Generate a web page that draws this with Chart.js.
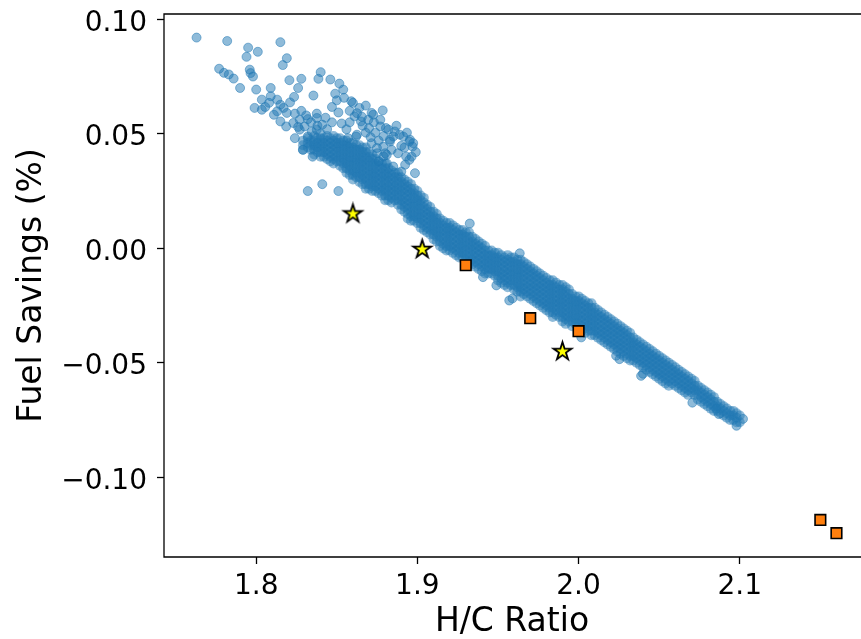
<!DOCTYPE html>
<html>
<head>
<meta charset="utf-8">
<script src="https://cdn.jsdelivr.net/npm/chart.js@4.4.1/dist/chart.umd.min.js"></script>
<style>
  html, body { margin: 0; padding: 0; background: #fff; overflow: hidden; }
  canvas { display: block; }
</style>
</head>
<body>
<canvas id="fuel-chart" width="861" height="639"></canvas>
<script>
// axis ticks
const xTicks = [1.8, 1.9, 2.0, 2.1];
const xTickLabels = ["1.8", "1.9", "2.0", "2.1"];
const yTicks = [-0.10, -0.05, 0.00, 0.05, 0.10];
const yTickLabels = ["\u22120.10", "\u22120.05", "0.00", "0.05", "0.10"];

// orange squares
const squareX = [1.930, 1.970, 2.000, 2.150, 2.160];
const squareY = [-0.0074, -0.0305, -0.0362, -0.1186, -0.1244];

// yellow stars
const starX = [1.860, 1.903, 1.990];
const starY = [0.0150, -0.0005, -0.0451];

// blue cloud, sparse points read one by one
const loosePoints = [
  [1.763,0.092],[1.782,0.0905],[1.795,0.0876],[1.801,0.0858],[1.794,0.0836],[1.815,0.090],
  [1.819,0.083],[1.8165,0.080],[1.796,0.078],[1.7965,0.0765],[1.798,0.075],[1.777,0.0784],
  [1.780,0.0766],[1.783,0.0759],[1.786,0.0741],[1.790,0.070],[1.800,0.0693],[1.799,0.0613],
  [1.8035,0.0605],[1.8035,0.0649],[1.809,0.070],[1.809,0.0664],[1.808,0.0635],[1.813,0.0649],
  [1.815,0.0627],[1.813,0.0598],[1.811,0.0583],[1.817,0.0613],[1.819,0.0591],[1.821,0.0637],
  [1.8235,0.0661],[1.826,0.070],[1.828,0.074],[1.8206,0.0734],[1.824,0.0588],[1.815,0.0554],
  [1.8186,0.0532],[1.823,0.0547],[1.827,0.0561],[1.832,0.0564],[1.8376,0.0588],[1.840,0.0769],
  [1.8386,0.074],[1.8355,0.0667],[1.8376,0.0569],[1.846,0.0737],[1.8516,0.0719],[1.854,0.0693],
  [1.849,0.0675],[1.850,0.0646],[1.8545,0.0657],[1.847,0.0617],[1.851,0.0593],[1.859,0.0642],
  [1.864,0.0613],[1.868,0.0623],[1.861,0.0576],[1.865,0.0554],[1.8695,0.0561],[1.873,0.055],
  [1.8785,0.0602],[1.877,0.0561],[1.866,0.0535],[1.877,0.0532],[1.887,0.0535],[1.889,0.0496],
  [1.885,0.0488],[1.883,0.0466],[1.890,0.0447],[1.895,0.0466],[1.897,0.0444],[1.8985,0.0328],
  [1.880,0.0415],[1.879,0.0401],[1.885,0.0357],[1.890,0.0335],[1.893,0.0401],[1.895,0.0386],
  [1.8716,0.0459],[1.875,0.0415],[1.876,0.0379],[1.881,0.0371],[1.862,0.0488],[1.857,0.0481],
  [1.830,0.0532],[1.8345,0.051],[1.827,0.0518],[1.824,0.0481],[1.832,0.0488],[1.8376,0.0518],
  [1.8056,0.0617],[1.8716,0.0591],[1.882,0.0518],[1.860,0.0635],[1.8726,0.0583],[1.8954,0.0474],
  [1.8974,0.0459],[1.8912,0.0488],[1.883,0.0474],[1.8788,0.0444],[1.881,0.0408],[1.8964,0.040],
  [1.829,0.043],[1.835,0.040],[1.8924,0.0365],[1.8749,0.0438],[1.8625,0.0496],[1.8656,0.0574],
  [1.828,0.060],[1.831,0.058],[1.834,0.055],[1.826,0.053],[1.841,0.054],[1.844,0.052],
  [1.838,0.0535],[1.843,0.057],[1.847,0.055],[1.853,0.0545],[1.856,0.052],[1.858,0.055],
  [1.870,0.0525],[1.874,0.0505],[1.879,0.0490],[1.884,0.0430],[1.888,0.0415],[1.892,0.0440],
  [1.899,0.0420],[1.8935,0.0505],[1.886,0.0510],[1.868,0.0505],[1.871,0.0485],[1.876,0.0470],
  [1.8805,0.0525],[1.858,0.0600],[1.8625,0.0590],
  [1.832,0.025],[1.841,0.028],[1.851,0.025],
  [1.9407,-0.0126],[1.949,-0.0162],[1.959,-0.0219],[1.957,-0.0228],[2.0017,-0.0389],
  [2.0233,-0.0469],[2.040,-0.0548],[2.0388,-0.0557],[2.0254,-0.0484],[2.0706,-0.0674],
  [1.9635,-0.0022],[1.9325,0.0108],[2.102,-0.0745],[2.098,-0.0775],[2.087,-0.0724],[2.0854,-0.0700]
];

// blue cloud, dense band read column by column: [x, y, y, ...]
const bandColumns = [
  [1.829, 0.047, 0.045, 0.043],
  [1.832, 0.048, 0.046, 0.044],
  [1.836, 0.049, 0.047, 0.045, 0.043, 0.041],
  [1.840, 0.050, 0.048, 0.046, 0.044, 0.042, 0.040],
  [1.844, 0.049, 0.047, 0.045, 0.043, 0.041, 0.039],
  [1.848, 0.049, 0.047, 0.045, 0.043, 0.041, 0.039, 0.037],
  [1.852, 0.048, 0.046, 0.044, 0.042, 0.040, 0.038, 0.036],
  [1.856, 0.047, 0.045, 0.043, 0.041, 0.039, 0.037, 0.035, 0.033],
  [1.860, 0.046, 0.044, 0.042, 0.040, 0.038, 0.036, 0.034, 0.032, 0.030],
  [1.864, 0.045, 0.043, 0.041, 0.039, 0.037, 0.035, 0.033, 0.031, 0.029],
  [1.868, 0.044, 0.042, 0.040, 0.038, 0.036, 0.034, 0.032, 0.030, 0.028, 0.026],
  [1.872, 0.041, 0.039, 0.037, 0.035, 0.033, 0.031, 0.029, 0.027, 0.025],
  [1.876, 0.038, 0.036, 0.034, 0.032, 0.030, 0.028, 0.026, 0.024],
  [1.880, 0.037, 0.035, 0.033, 0.031, 0.029, 0.027, 0.025, 0.023, 0.021],
  [1.884, 0.034, 0.032, 0.030, 0.028, 0.026, 0.024, 0.022, 0.020],
  [1.888, 0.033, 0.031, 0.029, 0.027, 0.025, 0.023, 0.021, 0.019],
  [1.892, 0.030, 0.028, 0.026, 0.024, 0.022, 0.020, 0.018, 0.016],
  [1.896, 0.028, 0.026, 0.024, 0.022, 0.020, 0.018, 0.016, 0.014, 0.012],
  [1.900, 0.025, 0.023, 0.021, 0.019, 0.017, 0.015, 0.013, 0.011],
  [1.904, 0.022, 0.020, 0.018, 0.016, 0.014, 0.012, 0.010, 0.008],
  [1.908, 0.018, 0.016, 0.014, 0.012, 0.010, 0.008, 0.006],
  [1.912, 0.015, 0.013, 0.011, 0.009, 0.007, 0.005, 0.003],
  [1.916, 0.012, 0.010, 0.008, 0.006, 0.004, 0.002, 0.000],
  [1.920, 0.011, 0.009, 0.007, 0.005, 0.003, 0.001, -0.001],
  [1.924, 0.009, 0.007, 0.005, 0.003, 0.001, -0.001, -0.003],
  [1.928, 0.008, 0.006, 0.004, 0.002, 0.000, -0.002, -0.004],
  [1.932, 0.007, 0.005, 0.003, 0.001, -0.001, -0.003, -0.005, -0.007],
  [1.936, 0.004, 0.002, 0.000, -0.002, -0.004, -0.006, -0.008],
  [1.940, 0.002, 0.000, -0.002, -0.004, -0.006, -0.008, -0.010],
  [1.944, -0.001, -0.003, -0.005, -0.007, -0.009, -0.011],
  [1.948, -0.002, -0.004, -0.006, -0.008, -0.010, -0.012],
  [1.952, -0.003, -0.005, -0.007, -0.009, -0.011, -0.013, -0.015],
  [1.956, -0.003, -0.005, -0.007, -0.009, -0.011, -0.013, -0.015, -0.017],
  [1.960, -0.004, -0.006, -0.008, -0.010, -0.012, -0.014, -0.016, -0.018],
  [1.964, -0.005, -0.007, -0.009, -0.011, -0.013, -0.015, -0.017, -0.019, -0.021],
  [1.968, -0.007, -0.009, -0.011, -0.013, -0.015, -0.017, -0.019, -0.021],
  [1.972, -0.009, -0.011, -0.013, -0.015, -0.017, -0.019, -0.021, -0.023],
  [1.976, -0.011, -0.013, -0.015, -0.017, -0.019, -0.021, -0.023, -0.025],
  [1.980, -0.013, -0.015, -0.017, -0.019, -0.021, -0.023, -0.025, -0.027],
  [1.984, -0.014, -0.016, -0.018, -0.020, -0.022, -0.024, -0.026, -0.028, -0.030],
  [1.988, -0.016, -0.018, -0.020, -0.022, -0.024, -0.026, -0.028, -0.030],
  [1.992, -0.017, -0.019, -0.021, -0.023, -0.025, -0.027, -0.029, -0.031, -0.033],
  [1.996, -0.020, -0.022, -0.024, -0.026, -0.028, -0.030, -0.032, -0.034],
  [2.000, -0.021, -0.023, -0.025, -0.027, -0.029, -0.031, -0.033, -0.035],
  [2.004, -0.023, -0.025, -0.027, -0.029, -0.031, -0.033, -0.035, -0.037],
  [2.008, -0.024, -0.026, -0.028, -0.030, -0.032, -0.034, -0.036, -0.038],
  [2.012, -0.027, -0.029, -0.031, -0.033, -0.035, -0.037, -0.039],
  [2.016, -0.029, -0.031, -0.033, -0.035, -0.037, -0.039, -0.041],
  [2.020, -0.031, -0.033, -0.035, -0.037, -0.039, -0.041, -0.043],
  [2.024, -0.033, -0.035, -0.037, -0.039, -0.041, -0.043, -0.045],
  [2.028, -0.035, -0.037, -0.039, -0.041, -0.043, -0.045, -0.047],
  [2.032, -0.037, -0.039, -0.041, -0.043, -0.045, -0.047, -0.049],
  [2.036, -0.040, -0.042, -0.044, -0.046, -0.048, -0.050],
  [2.040, -0.042, -0.044, -0.046, -0.048, -0.050, -0.052],
  [2.044, -0.044, -0.046, -0.048, -0.050, -0.052, -0.054],
  [2.048, -0.046, -0.048, -0.050, -0.052, -0.054, -0.056],
  [2.052, -0.048, -0.050, -0.052, -0.054, -0.056, -0.058],
  [2.056, -0.050, -0.052, -0.054, -0.056, -0.058, -0.060],
  [2.060, -0.052, -0.054, -0.056, -0.058, -0.060],
  [2.064, -0.054, -0.056, -0.058, -0.060, -0.062],
  [2.068, -0.056, -0.058, -0.060, -0.062, -0.064],
  [2.072, -0.058, -0.060, -0.062, -0.064],
  [2.076, -0.061, -0.063, -0.065, -0.067],
  [2.080, -0.063, -0.065, -0.067, -0.069],
  [2.084, -0.065, -0.067, -0.069, -0.071],
  [2.088, -0.068, -0.070, -0.072],
  [2.092, -0.070, -0.072, -0.074],
  [2.096, -0.071, -0.073, -0.075],
  [2.100, -0.073, -0.076]
];

// second pass over the band, columns in between the first ones
const bandColumnsMid = [
  [1.834, 0.047, 0.045, 0.043],
  [1.838, 0.048, 0.046, 0.044, 0.042],
  [1.842, 0.048, 0.046, 0.044, 0.042, 0.040],
  [1.846, 0.048, 0.046, 0.044, 0.042, 0.040, 0.038],
  [1.850, 0.048, 0.046, 0.044, 0.042, 0.040, 0.038],
  [1.854, 0.047, 0.045, 0.043, 0.041, 0.039, 0.037, 0.035],
  [1.858, 0.046, 0.044, 0.042, 0.040, 0.038, 0.036, 0.034, 0.032],
  [1.862, 0.045, 0.043, 0.041, 0.039, 0.037, 0.035, 0.033, 0.031],
  [1.866, 0.044, 0.042, 0.040, 0.038, 0.036, 0.034, 0.032, 0.030, 0.028],
  [1.870, 0.042, 0.040, 0.038, 0.036, 0.034, 0.032, 0.030, 0.028, 0.026],
  [1.874, 0.039, 0.037, 0.035, 0.033, 0.031, 0.029, 0.027, 0.025],
  [1.878, 0.037, 0.035, 0.033, 0.031, 0.029, 0.027, 0.025, 0.023],
  [1.882, 0.035, 0.033, 0.031, 0.029, 0.027, 0.025, 0.023, 0.021],
  [1.886, 0.033, 0.031, 0.029, 0.027, 0.025, 0.023, 0.021],
  [1.890, 0.031, 0.029, 0.027, 0.025, 0.023, 0.021, 0.019, 0.017],
  [1.894, 0.029, 0.027, 0.025, 0.023, 0.021, 0.019, 0.017, 0.015, 0.013],
  [1.898, 0.026, 0.024, 0.022, 0.020, 0.018, 0.016, 0.014, 0.012],
  [1.902, 0.023, 0.021, 0.019, 0.017, 0.015, 0.013, 0.011, 0.009],
  [1.906, 0.019, 0.017, 0.015, 0.013, 0.011, 0.009, 0.007],
  [1.910, 0.016, 0.014, 0.012, 0.010, 0.008, 0.006, 0.004],
  [1.914, 0.013, 0.011, 0.009, 0.007, 0.005, 0.003, 0.001],
  [1.918, 0.011, 0.009, 0.007, 0.005, 0.003, 0.001, -0.001],
  [1.922, 0.010, 0.008, 0.006, 0.004, 0.002, 0.000, -0.002],
  [1.926, 0.008, 0.006, 0.004, 0.002, 0.000, -0.002, -0.004],
  [1.930, 0.007, 0.005, 0.003, 0.001, -0.001, -0.003, -0.005],
  [1.934, 0.005, 0.003, 0.001, -0.001, -0.003, -0.005, -0.007],
  [1.938, 0.003, 0.001, -0.001, -0.003, -0.005, -0.007, -0.009],
  [1.942, 0.001, -0.001, -0.003, -0.005, -0.007, -0.009, -0.011],
  [1.946, -0.001, -0.003, -0.005, -0.007, -0.009, -0.011],
  [1.950, -0.002, -0.004, -0.006, -0.008, -0.010, -0.012, -0.014],
  [1.954, -0.004, -0.006, -0.008, -0.010, -0.012, -0.014, -0.016],
  [1.958, -0.004, -0.006, -0.008, -0.010, -0.012, -0.014, -0.016],
  [1.962, -0.005, -0.007, -0.009, -0.011, -0.013, -0.015, -0.017, -0.019],
  [1.966, -0.006, -0.008, -0.010, -0.012, -0.014, -0.016, -0.018, -0.020],
  [1.970, -0.008, -0.010, -0.012, -0.014, -0.016, -0.018, -0.020, -0.022],
  [1.974, -0.010, -0.012, -0.014, -0.016, -0.018, -0.020, -0.022, -0.024],
  [1.978, -0.012, -0.014, -0.016, -0.018, -0.020, -0.022, -0.024, -0.026],
  [1.982, -0.014, -0.016, -0.018, -0.020, -0.022, -0.024, -0.026, -0.028],
  [1.986, -0.015, -0.017, -0.019, -0.021, -0.023, -0.025, -0.027, -0.029],
  [1.990, -0.016, -0.018, -0.020, -0.022, -0.024, -0.026, -0.028, -0.030, -0.032],
  [1.994, -0.018, -0.020, -0.022, -0.024, -0.026, -0.028, -0.030, -0.032],
  [1.998, -0.021, -0.023, -0.025, -0.027, -0.029, -0.031, -0.033],
  [2.002, -0.022, -0.024, -0.026, -0.028, -0.030, -0.032, -0.034, -0.036],
  [2.006, -0.024, -0.026, -0.028, -0.030, -0.032, -0.034, -0.036],
  [2.010, -0.026, -0.028, -0.030, -0.032, -0.034, -0.036, -0.038],
  [2.014, -0.028, -0.030, -0.032, -0.034, -0.036, -0.038, -0.040],
  [2.018, -0.030, -0.032, -0.034, -0.036, -0.038, -0.040, -0.042],
  [2.022, -0.032, -0.034, -0.036, -0.038, -0.040, -0.042, -0.044],
  [2.026, -0.034, -0.036, -0.038, -0.040, -0.042, -0.044, -0.046],
  [2.030, -0.036, -0.038, -0.040, -0.042, -0.044, -0.046, -0.048],
  [2.034, -0.039, -0.041, -0.043, -0.045, -0.047, -0.049],
  [2.038, -0.041, -0.043, -0.045, -0.047, -0.049, -0.051],
  [2.042, -0.043, -0.045, -0.047, -0.049, -0.051, -0.053],
  [2.046, -0.045, -0.047, -0.049, -0.051, -0.053, -0.055],
  [2.050, -0.047, -0.049, -0.051, -0.053, -0.055, -0.057],
  [2.054, -0.049, -0.051, -0.053, -0.055, -0.057, -0.059],
  [2.058, -0.051, -0.053, -0.055, -0.057, -0.059],
  [2.062, -0.053, -0.055, -0.057, -0.059, -0.061],
  [2.066, -0.055, -0.057, -0.059, -0.061, -0.063],
  [2.070, -0.057, -0.059, -0.061, -0.063],
  [2.074, -0.060, -0.062, -0.064, -0.066],
  [2.078, -0.062, -0.064, -0.066, -0.068],
  [2.082, -0.064, -0.066, -0.068, -0.070],
  [2.086, -0.067, -0.069, -0.071],
  [2.090, -0.069, -0.071, -0.073],
  [2.094, -0.071, -0.073, -0.075],
  [2.098, -0.072, -0.074, -0.076]
];

const BLUE = "rgba(31,119,180,0.5)";
const FONT = "'DejaVu Sans', sans-serif";

function starImage(r) {
  const size = Math.ceil(r * 2 + 6);
  const c = document.createElement("canvas");
  c.width = size;
  c.height = size;
  const g = c.getContext("2d");
  g.translate(size / 2, size / 2);
  g.beginPath();
  for (let i = 0; i < 10; i++) {
    const rad = i % 2 ? r * 0.382 : r;
    const a = -Math.PI / 2 + i * Math.PI / 5;
    g.lineTo(rad * Math.cos(a), rad * Math.sin(a));
  }
  g.closePath();
  g.fillStyle = "#ffff00";
  g.fill();
  g.lineWidth = 1.8;
  g.lineJoin = "miter";
  g.strokeStyle = "#000";
  g.stroke();
  return c;
}

// top, left and bottom spines (right one falls outside the picture)
const framePlugin = {
  id: "frame",
  afterDraw(chart) {
    const { ctx, chartArea: a } = chart;
    ctx.save();
    ctx.strokeStyle = "#000";
    ctx.lineWidth = 1.3;
    ctx.beginPath();
    ctx.moveTo(chart.width, a.top);
    ctx.lineTo(a.left, a.top);
    ctx.lineTo(a.left, a.bottom);
    ctx.lineTo(chart.width, a.bottom);
    ctx.stroke();
    ctx.restore();
  }
};

function toPoints(pairs) {
  return pairs.map(([x, y]) => ({ x, y }));
}

function columnsToPoints(cols) {
  const pts = [];
  cols.forEach(([x, ...ys]) => ys.forEach(y => pts.push({ x, y })));
  return pts;
}

function renderChart() {
  Chart.defaults.font.family = FONT;
  Chart.defaults.color = "#000";

  const stars = starX.map((x, i) => ({ x, y: starY[i] }));
  const squares = squareX.map((x, i) => ({ x, y: squareY[i] }));
  const band = columnsToPoints(bandColumns.concat(bandColumnsMid));

  const tickFont = { family: FONT, size: 28 };
  const titleFont = { family: FONT, size: 33, lineHeight: 1 };
  const axisGrid = { drawOnChartArea: false, drawTicks: true, tickLength: 7, tickWidth: 1.3, color: "#000" };

  new Chart(document.getElementById("fuel-chart"), {
    type: "scatter",
    data: {
      datasets: [
        { label: "stars", data: stars, pointStyle: starImage(9.5), pointRadius: 10, order: 0 },
        { label: "squares", data: squares, pointStyle: "rect", pointRadius: 7.5,
          backgroundColor: "#ff7f0e", borderColor: "#000", borderWidth: 1.6, order: 1 },
        { label: "blends", data: toPoints(loosePoints), pointRadius: 4.5, borderWidth: 1,
          backgroundColor: BLUE, borderColor: BLUE, order: 2 },
        { label: "blends (dense)", data: band, pointRadius: 5, borderWidth: 0,
          backgroundColor: BLUE, borderColor: BLUE, order: 3 }
      ]
    },
    options: {
      responsive: false,
      animation: false,
      events: [],
      layout: { autoPadding: false, padding: { top: 14, right: 1, left: 0, bottom: 0 } },
      plugins: { legend: { display: false }, tooltip: { enabled: false } },
      scales: {
        x: {
          type: "linear",
          min: 1.7428,
          max: 2.1746,
          afterBuildTicks: s => { s.ticks = xTicks.map(v => ({ value: v })); },
          afterFit: s => { s.height = 82; s.paddingLeft = 0; s.paddingRight = 0; },
          ticks: { font: tickFont, color: "#000", padding: 6, maxRotation: 0, autoSkip: false,
                   callback: (v, i) => xTickLabels[i] },
          grid: axisGrid,
          border: { display: false },
          title: { display: true, text: "H/C Ratio", font: titleFont, color: "#000", padding: { top: 0, bottom: 0 } }
        },
        y: {
          type: "linear",
          min: -0.1348,
          max: 0.1023,
          afterBuildTicks: s => { s.ticks = yTicks.map(v => ({ value: v })); },
          afterFit: s => { s.width = 164; s.paddingTop = 0; s.paddingBottom = 0; },
          ticks: { font: tickFont, color: "#000", padding: 10, labelOffset: 4, autoSkip: false,
                   callback: (v, i) => yTickLabels[i] },
          grid: axisGrid,
          border: { display: false },
          title: { display: true, text: "Fuel Savings (%)", font: titleFont, color: "#000", padding: { top: 16, bottom: 0 } }
        }
      }
    },
    plugins: [framePlugin]
  });
}

document.addEventListener("DOMContentLoaded", renderChart);
</script>
</body>
</html>
